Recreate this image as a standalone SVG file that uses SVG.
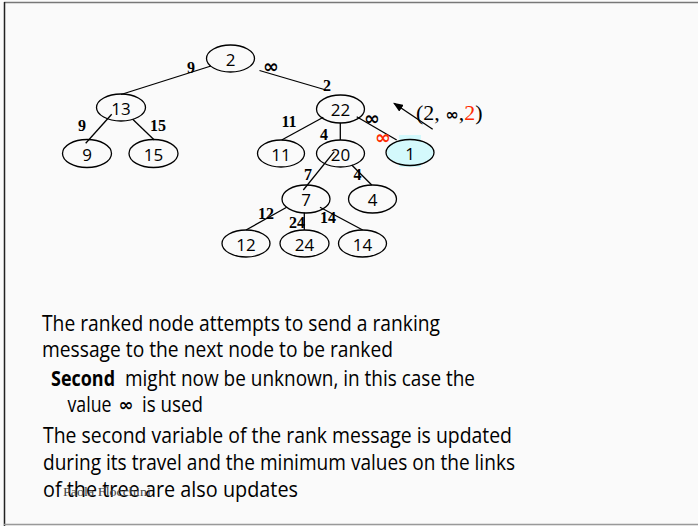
<svg xmlns="http://www.w3.org/2000/svg" width="698" height="526" viewBox="0 0 698 526">
  <defs>
    <marker id="arrowhead" markerWidth="10" markerHeight="8" refX="9" refY="4" orient="auto" markerUnits="userSpaceOnUse">
      <path d="M0,0 L10,4 L0,8 Z" fill="#000"/>
    </marker>
  </defs>
  <style>
    .node ellipse { fill: none; stroke: #000; stroke-width: 1.3; }
    .node text { font-family: "Open Sans", "DejaVu Sans", sans-serif; font-size: 17px; fill: #000; text-anchor: middle; dominant-baseline: central; }
    .edges line { stroke: #000; stroke-width: 1.3; }
    .w { font-family: "Liberation Serif", serif; font-weight: bold; font-size: 16px; fill: #000; text-anchor: middle; }
    .inf { font-family: "DejaVu Sans", sans-serif; font-weight: bold; font-size: 19px; text-anchor: middle; }
    .body { font-family: "Open Sans", "DejaVu Sans", sans-serif; font-size: 21px; fill: #000; }
  </style>

  <!-- slide background and frame -->
  <rect x="0" y="0" width="698" height="526" fill="#fafafa"/>
  <line x1="4" y1="2.5" x2="698" y2="2.5" stroke="#777" stroke-width="1.5"/>
  <line x1="4.5" y1="2" x2="4.5" y2="526" stroke="#222" stroke-width="1.5"/>
  <line x1="4" y1="524.5" x2="698" y2="524.5" stroke="#999" stroke-width="1.5"/>

  <!-- tree links -->
  <g id="edges" class="edges">
    <line x1="211" y1="66" x2="121" y2="94.5"/>
    <line x1="259.5" y1="70.5" x2="326" y2="90"/>
    <line x1="111.7" y1="114.3" x2="85.7" y2="143.3"/>
    <line x1="132.7" y1="119.3" x2="154.3" y2="140"/>
    <line x1="323.3" y1="117.3" x2="281.7" y2="140"/>
    <line x1="340.3" y1="122.7" x2="340.3" y2="140"/>
    <line x1="356.7" y1="116.7" x2="396.7" y2="140"/>
    <line x1="334.3" y1="151.7" x2="303.3" y2="190"/>
    <line x1="351.7" y1="165" x2="371.7" y2="185"/>
    <line x1="286.7" y1="207.3" x2="246" y2="230"/>
    <line x1="304.3" y1="212.7" x2="304.3" y2="230"/>
    <line x1="320" y1="207.3" x2="362.7" y2="230"/>
    <!-- message arrow -->
    <line x1="432.7" y1="129.3" x2="394" y2="103.3" marker-end="url(#arrowhead)"/>
  </g>

  <!-- link weights -->
  <g id="weights">
    <text class="w" x="191" y="73">9</text>
    <text class="inf" x="271" y="73" fill="#000">∞</text>
    <text class="w" x="327" y="91">2</text>
    <text class="w" x="82" y="131">9</text>
    <text class="w" x="158" y="131">15</text>
    <text class="w" x="289" y="127">11</text>
    <text class="w" x="324" y="140">4</text>
    <text class="inf" x="372" y="125" fill="#000">∞</text>
    <text class="inf" x="383" y="144" fill="#ff2a00">∞</text>
    <text class="w" x="308" y="180">7</text>
    <text class="w" x="357.5" y="180">4</text>
    <text class="w" x="266" y="219">12</text>
    <text class="w" x="297" y="228">24</text>
    <text class="w" x="328" y="223">14</text>
  </g>

  <!-- nodes -->
  <g id="n2" class="node"><ellipse cx="230.5" cy="58.5" rx="24" ry="13.5"/><text x="230.5" y="59">2</text></g>
  <g id="n13" class="node"><ellipse cx="121" cy="107.5" rx="24.5" ry="13.5"/><text x="121" y="108">13</text></g>
  <g id="n9" class="node"><ellipse cx="87" cy="153.5" rx="24.5" ry="14"/><text x="87" y="154">9</text></g>
  <g id="n15" class="node"><ellipse cx="153.5" cy="153.5" rx="24.5" ry="14"/><text x="153.5" y="154">15</text></g>
  <g id="n22" class="node"><ellipse cx="340.5" cy="109" rx="24" ry="14"/><text x="340.5" y="109.5">22</text></g>
  <g id="n11" class="node"><ellipse cx="281" cy="153.5" rx="23.5" ry="13.5"/><text x="281" y="154">11</text></g>
  <g id="n20" class="node"><ellipse cx="340.5" cy="153.5" rx="24" ry="13.5"/><text x="340.5" y="154">20</text></g>
  <g id="n1" class="node">
    <rect x="399" y="135" width="22" height="32" fill="#d4f9fc"/>
    <ellipse cx="410" cy="152.5" rx="24" ry="13" style="fill:#d4f9fc"/>
    <text x="410" y="153">1</text>
  </g>
  <g id="n7" class="node"><ellipse cx="306" cy="199" rx="24" ry="14"/><text x="306" y="199.5">7</text></g>
  <g id="n4" class="node"><ellipse cx="372.5" cy="199" rx="24" ry="14"/><text x="372.5" y="199.5">4</text></g>
  <g id="n12" class="node"><ellipse cx="246" cy="243.5" rx="24" ry="13.5"/><text x="246" y="244">12</text></g>
  <g id="n24" class="node"><ellipse cx="304.5" cy="243.5" rx="24.5" ry="13.5"/><text x="304.5" y="244">24</text></g>
  <g id="n14" class="node"><ellipse cx="362.5" cy="243.5" rx="24" ry="13.5"/><text x="362.5" y="244">14</text></g>

  <!-- rank message -->
  <g id="message">
    <text x="416" y="120" font-family="Liberation Serif, serif" font-size="22" fill="#000">(2, <tspan font-family="DejaVu Sans, sans-serif" font-weight="bold" font-size="16">∞</tspan>,<tspan fill="#ff2a00">2</tspan>)</text>
  </g>

  <!-- explanation -->
  <g id="caption" class="body">
    <text x="42" y="331" textLength="398" lengthAdjust="spacingAndGlyphs">The ranked node attempts to send a ranking</text>
    <text x="42" y="357" textLength="351" lengthAdjust="spacingAndGlyphs">message to the next node to be ranked</text>
    <text x="51" y="386" font-weight="bold" textLength="64" lengthAdjust="spacingAndGlyphs">Second</text>
    <text x="125" y="386" textLength="350" lengthAdjust="spacingAndGlyphs">might now be unknown, in this case the</text>
    <text x="67.5" y="412" textLength="44" lengthAdjust="spacingAndGlyphs">value</text>
    <text x="118.5" y="411" font-family="DejaVu Sans, sans-serif" font-weight="bold" font-size="18">∞</text>
    <text x="142" y="412" textLength="61" lengthAdjust="spacingAndGlyphs">is used</text>
    <text x="43" y="443" textLength="469" lengthAdjust="spacingAndGlyphs">The second variable of the rank message is updated</text>
    <text x="43" y="470" textLength="472" lengthAdjust="spacingAndGlyphs">during its travel and the minimum values on the links</text>
    <text x="43" y="497" textLength="255" lengthAdjust="spacingAndGlyphs">of the tree are also updates</text>
  </g>
  <text id="author" x="63" y="496" font-family="Liberation Serif, serif" font-size="13" fill="#444" textLength="88" lengthAdjust="spacingAndGlyphs">Paola Flocchini</text>
</svg>
